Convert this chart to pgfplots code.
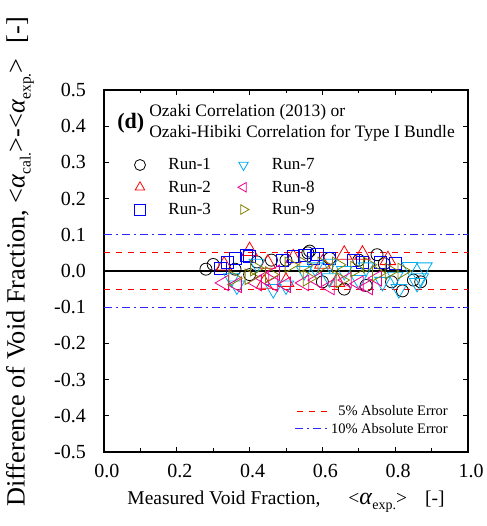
\documentclass[border=0pt]{standalone}
\usepackage{fontspec}
\setmainfont{Liberation Serif}
\usepackage{pgfplots}
\pgfplotsset{compat=1.18}
\definecolor{olivec}{RGB}{128,128,0}
\definecolor{lineblue}{RGB}{40,40,255}
\begin{document}
\begin{tikzpicture}
\path[use as bounding box] (-104pt,-74pt) rectangle (382pt,452pt);
\begin{axis}[
  scale only axis, width=364pt, height=362pt,
  xmin=0, xmax=1, ymin=-0.5, ymax=0.5,
  unbounded coords=jump,
  xtick={0,0.2,0.4,0.6,0.8,1},
  minor xtick={0.1,0.3,0.5,0.7,0.9},
  ytick={-0.5,-0.4,-0.3,-0.2,-0.1,0,0.1,0.2,0.3,0.4,0.5},
  xtick pos=both, ytick pos=both,
  xticklabel pos=lower, yticklabel pos=left,
  tick align=inside,
  major tick length=5pt, minor tick length=3.5pt,
  every tick/.style={black, line width=1pt},
  axis line style={line width=1.4pt},
  /pgf/number format/.cd, fixed, fixed zerofill, precision=1, assume math mode=true,
  /pgfplots/.cd,
  tick label style={font=\fontsize{20}{24}\selectfont},
  xticklabel style={anchor=base, inner sep=0pt, yshift=-25pt, xshift=3pt},
  yticklabel style={anchor=east, inner sep=0pt, xshift=-18pt},
  ylabel={Difference of Void Fraction, <\textit{α}\raisebox{-6pt}{\fontsize{15.5}{15.5}\selectfont cal.}>-<\textit{α}\raisebox{-6pt}{\fontsize{15.5}{15.5}\selectfont exp.}>\hspace{15pt}[-]},
  ylabel style={at={(axis description cs:-0.231,0.525)}, anchor=center, font=\fontsize{26.3}{29}\selectfont},
  xlabel={Measured Void Fraction,\hspace{28pt}<{\fontsize{24}{24}\selectfont\textit{α}}\raisebox{-5pt}{\fontsize{14}{14}\selectfont exp.}>\hspace{18pt}[-]},
  xlabel style={at={(axis description cs:0.5,-0.146)}, anchor=base, font=\fontsize{19.5}{23}\selectfont},
  legend columns=3, transpose legend,
  legend style={at={(axis description cs:0.075,0.822)}, anchor=north west, draw=none, fill=none,
    font=\fontsize{17}{19}\selectfont, nodes={inner sep=2pt}, row sep=5.5pt,
    /tikz/every odd column/.append style={column sep=21pt},
    /tikz/every even column/.append style={column sep=25pt}},
  legend image post style={mark size=5.5pt},
]
% error bands (5% and 10%) with their legend samples
\addplot[forget plot, red, line width=1pt, dash pattern=on 6pt off 6pt] coordinates {
(0,0.05) (1,0.05) (0.5,nan) (0,-0.05) (1,-0.05) (0.5,nan) (0.530,-0.387) (0.613,-0.387)};
\addplot[forget plot, lineblue, line width=1pt, dash pattern=on 8pt off 4pt on 2pt off 4pt] coordinates {
(0,0.1) (1,0.1) (0.5,nan) (0,-0.1) (1,-0.1) (0.5,nan) (0.525,-0.436) (0.618,-0.436)};
% Run-1
\addplot[only marks, mark=o, black, mark size=6pt, line width=0.8pt] coordinates {
(0.28,0.005) (0.30,0.018) (0.36,0.005) (0.40,-0.01) (0.42,0.025) (0.46,0.03) (0.50,0.03)
(0.56,0.05) (0.565,0.055) (0.60,-0.03) (0.62,0.035) (0.66,-0.05) (0.70,0.03) (0.72,-0.04)
(0.75,0.045) (0.77,0.02) (0.79,-0.03) (0.82,-0.055) (0.85,-0.025) (0.87,-0.03)};
\addlegendentry{Run-1}
% Run-2
\addplot[only marks, mark=triangle, red, mark size=9pt, line width=0.8pt] coordinates {
(0.33,0.015) (0.40,0.055) (0.44,-0.035) (0.45,0.02) (0.50,-0.03) (0.52,0.035) (0.60,0.02)
(0.64,-0.03) (0.66,0.045) (0.71,0.045) (0.78,0.03)};
\addlegendentry{Run-2}
% Run-3
\addplot[only marks, mark=square, blue, mark size=6pt, line width=0.8pt] coordinates {
(0.32,0.008) (0.34,0.025) (0.36,0.035) (0.39,0.044) (0.40,0.04) (0.49,0.03) (0.52,0.039)
(0.55,0.044) (0.575,0.035) (0.585,0.045) (0.62,0.035) (0.685,0.03) (0.71,0.025) (0.76,0.025) (0.80,0.02)};
\addlegendentry{Run-3}
% Run-7
\addplot[only marks, mark=triangle, cyan, mark size=9pt, line width=0.8pt, mark options={rotate=180}] coordinates {
(0.35,-0.02) (0.365,-0.04) (0.42,0.02) (0.465,-0.05) (0.50,-0.04) (0.55,0.0) (0.58,0.01)
(0.62,-0.02) (0.62,0.02) (0.66,0.0) (0.70,-0.025) (0.72,0.01) (0.765,-0.03) (0.80,-0.016)
(0.81,-0.05) (0.84,0.011) (0.86,-0.033) (0.87,-0.02) (0.88,0.01)};
\addlegendentry{Run-7}
% Run-8
\addplot[only marks, mark=triangle, magenta, mark size=9pt, line width=0.8pt, mark options={rotate=90}] coordinates {
(0.33,-0.033) (0.365,-0.038) (0.42,-0.033) (0.44,-0.02) (0.465,-0.035) (0.47,-0.005) (0.50,-0.038)
(0.55,-0.033) (0.585,-0.025) (0.62,-0.044) (0.667,-0.025) (0.70,-0.035) (0.725,-0.044) (0.75,-0.02)};
\addlegendentry{Run-8}
% Run-9
\addplot[only marks, mark=triangle, olivec, mark size=9pt, line width=0.8pt, mark options={rotate=-90}] coordinates {
(0.355,-0.02) (0.40,-0.016) (0.415,0.008) (0.456,-0.01) (0.51,0.017) (0.55,0.017) (0.56,-0.02)
(0.60,0.017) (0.64,0.017) (0.65,-0.025) (0.69,0.005) (0.725,0.017) (0.75,-0.006) (0.785,0.0) (0.82,0.0)};
\addlegendentry{Run-9}
% zero line
\addplot[forget plot, black, line width=1.2pt] coordinates {(0,0) (1,0)};
\node[anchor=base west, inner sep=0pt, font=\bfseries\fontsize{22}{26}\selectfont] at (axis cs:0.036,0.395) {(d)};
\node[anchor=base west, inner sep=0pt, font=\fontsize{17.5}{20}\selectfont] at (axis cs:0.124,0.428) {Ozaki Correlation (2013) or};
\node[anchor=base west, inner sep=0pt, font=\fontsize{17.5}{20}\selectfont] at (axis cs:0.124,0.370) {Ozaki-Hibiki Correlation for Type I Bundle};
\node[anchor=base east, inner sep=0pt, font=\fontsize{14.5}{17}\selectfont] at (axis cs:0.945,-0.400) {5\% Absolute Error};
\node[anchor=base east, inner sep=0pt, font=\fontsize{14.5}{17}\selectfont] at (axis cs:0.945,-0.449) {10\% Absolute Error};
\end{axis}
\end{tikzpicture}
\end{document}
